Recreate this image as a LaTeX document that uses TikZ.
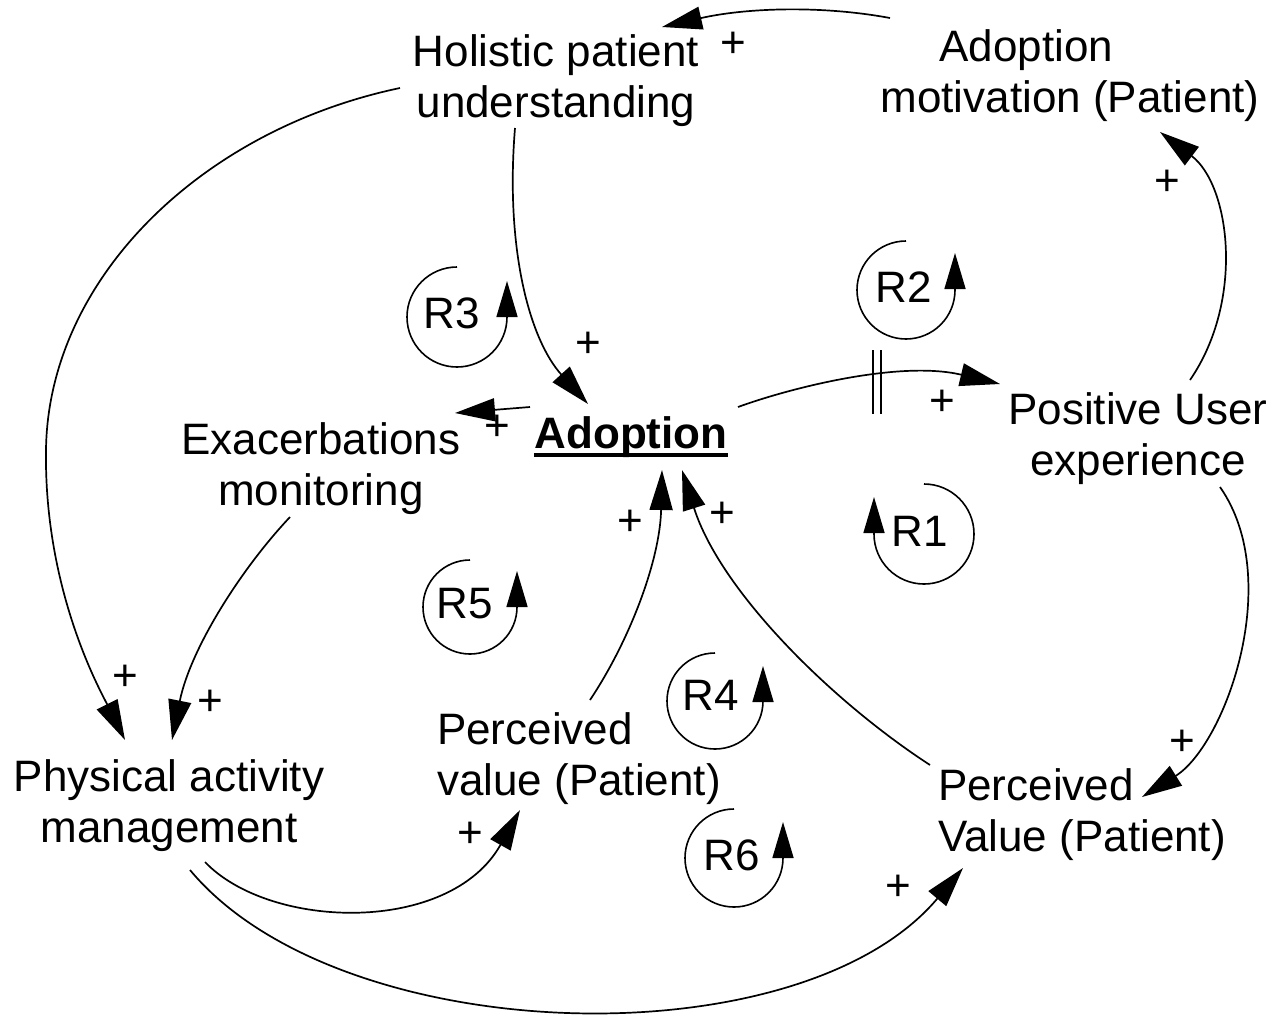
\documentclass[tikz,border=0pt]{standalone}
\usepackage{fontspec}
\setmainfont{Liberation Sans}
\usetikzlibrary{arrows.meta,calc}
\begin{document}
\begin{tikzpicture}[x=0.5pt,y=-0.5pt,
  var/.style={font=\fontsize{22}{25.5}\selectfont, inner sep=0pt, align=center},
  varl/.style={var, align=left},
  sign/.style={font=\fontsize{22}{25.5}\selectfont, inner sep=0pt},
  link/.style={line width=0.85pt, -{Triangle[length=20pt,width=11.5pt]}},
  loopline/.style={line width=0.8pt, -{Triangle[length=18pt,width=10.5pt]}},
  delay/.style={line width=0.9pt}]
\fill[white] (0,0) rectangle (1285,1019);
\useasboundingbox (0,0) rectangle (1285,1019);

% variables
\node[var] (hol) at (556,82) {\strut Holistic patient\\\strut understanding};
\node[varl] (mot) at (1070,77) {\strut\hspace*{29.5pt}Adoption\\\strut motivation (Patient)};
\node[sign, font=\fontsize{22}{25.5}\selectfont\bfseries, anchor=base] (adop) at (631,448) {Adoption};
\draw[line width=2pt] ($(adop.base west)+(0,7)$) -- ($(adop.base east)+(0,7)$);
\node[var] (exa) at (321,470) {\strut Exacerbations\\\strut monitoring};
\node[var] (pos) at (1138,440) {\strut Positive User\\\strut experience};
\node[var] (phys) at (169,807) {\strut Physical activity\\\strut management};
\node[varl] (pv1) at (579,760) {\strut Perceived\\\strut value (Patient)};
\node[varl] (pv2) at (1082,816) {\strut Perceived\\\strut Value (Patient)};

% links
\draw[link] ($(mot)+(-180,-59)$) .. controls (820,5) and (745,8) .. ($(hol)+(106,-55)$);
\draw[link] ($(hol)+(-41,46)$) .. controls (505,250) and (530,340) .. ($(adop.base)+(-43,-44)$);
\draw[link] ($(adop.base)+(-101,-41)$) -- ($(exa)+(134,-57)$);
\draw[link] ($(adop.base)+(107,-41)$) .. controls (790,388) and (900,360) .. ($(pos)+(-138,-56)$);
\draw[delay] (873,350) -- (873,414) (881,350) -- (881,414);
\draw[link] ($(pos)+(52,-60)$) .. controls (1245,300) and (1230,185) .. ($(mot)+(90,55)$);
\draw[link] ($(pos)+(82,47)$) .. controls (1285,580) and (1225,745) .. ($(pv2)+(60,-19)$);
\draw[link] ($(pv2)+(-152,-51)$) .. controls (830,700) and (720,590) .. ($(adop.base)+(51,22)$);
\draw[link] ($(pv1)+(11,-60)$) .. controls (630,640) and (660,560) .. ($(adop.base)+(31,22)$);
\draw[link] ($(hol)+(-156,6)$) .. controls (200,130) and (48,280) .. (46,450) .. controls (44,590) and (100,690) .. ($(phys)+(-44,-67)$);
\draw[link] ($(exa)+(-31,47)$) .. controls (240,570) and (190,650) .. ($(phys)+(3,-67)$);
\draw[link] ($(phys)+(36,55)$) .. controls (270,930) and (450,935) .. ($(pv1)+(-59,50)$);
\draw[link] ($(phys)+(21,63)$) .. controls (340,1050) and (800,1062) .. ($(pv2)+(-119,52)$);

% polarity signs
\node[sign] (s1) at (733,45) {+};
\node[sign] (s2) at (588,345) {+};
\node[sign] (s3) at (497,428) {+};
\node[sign] (s4) at (942,403) {+};
\node[sign] (s5) at (1167,183) {+};
\node[sign] (s6) at (1182,743) {+};
\node[sign] (s7) at (722,515) {+};
\node[sign] (s8) at (630,523) {+};
\node[sign] (s9) at (125,678) {+};
\node[sign] (s10) at (210,703) {+};
\node[sign] (s11) at (470,835) {+};
\node[sign] (s12) at (898,888) {+};

% loop markers
\node[sign] (r1) at (920,531) {R1};
\node[sign] (r2) at (904,287) {R2};
\node[sign] (r3) at (452,313) {R3};
\node[sign] (r4) at (711,695) {R4};
\node[sign] (r5) at (465,604) {R5};
\node[sign] (r6) at (732,855) {R6};
\draw[loopline] ($(r1)+(4,-47)$) arc[start angle=-90, end angle=180, radius=50] -- ++(0,-37);
\draw[loopline] ($(r2)+(2,-46)$) arc[start angle=-90, end angle=-360, radius=49] -- ++(0,-37);
\draw[loopline] ($(r3)+(5,-46)$) arc[start angle=-90, end angle=-360, radius=50] -- ++(0,-36);
\draw[loopline] ($(r4)+(4,-42)$) arc[start angle=-90, end angle=-360, radius=48] -- ++(0,-35);
\draw[loopline] ($(r5)+(5,-44)$) arc[start angle=-90, end angle=-360, radius=47] -- ++(0,-36);
\draw[loopline] ($(r6)+(2,-46)$) arc[start angle=-90, end angle=-360, radius=49] -- ++(0,-36);
\end{tikzpicture}
\end{document}
